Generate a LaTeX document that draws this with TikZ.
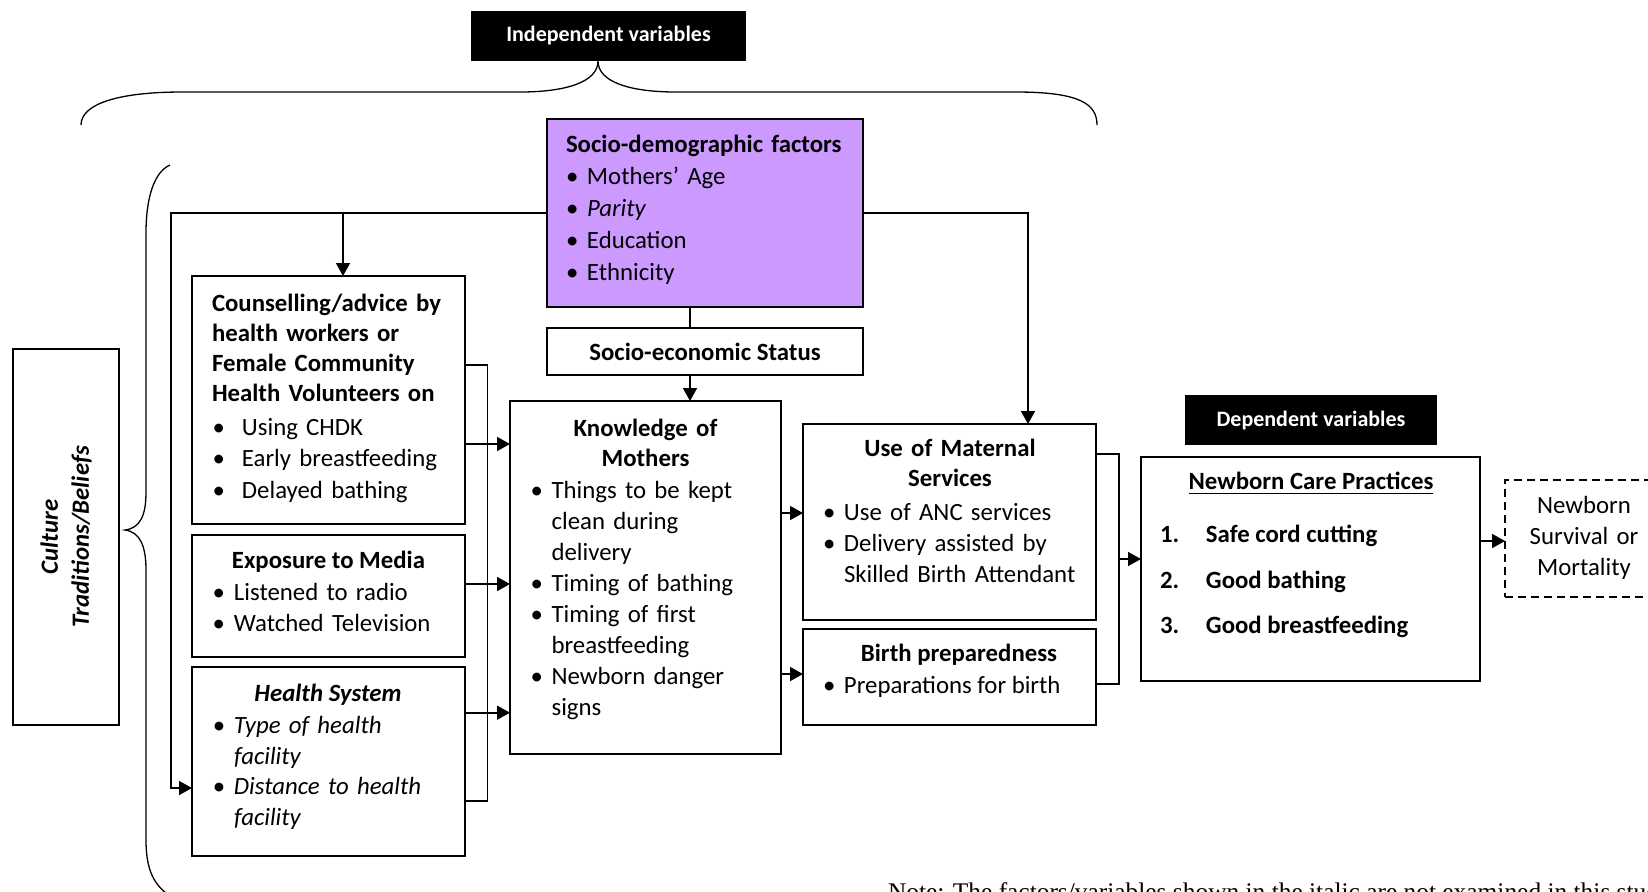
\documentclass[tikz,border=0pt]{standalone}
\usepackage{fontspec}
\setmainfont{Carlito}
\newfontfamily\notefont{Liberation Serif}
\usetikzlibrary{arrows.meta,calc}
\definecolor{sdpurple}{RGB}{204,153,255}
\newcommand{\bul}[2][10.5pt]{\strut\makebox[#1][l]{\textbullet}#2}
\newcommand{\cnt}[2][10.5pt]{\strut\hspace*{#1}#2}
\newcommand{\fs}[1]{\fontsize{12.4}{#1}\selectfont}
\begin{document}
\begin{tikzpicture}[x=0.5pt,y=-0.5pt,
  bx/.style={draw, line width=1pt, inner sep=0pt, outer sep=0pt, anchor=north west},
  sz/.style 2 args={minimum width=#1*0.5pt, minimum height=#2*0.5pt},
  txt/.style={inner sep=0pt, outer sep=0pt},
  conn/.style={line width=0.8pt},
  arr/.style={line width=0.8pt, -{Triangle[width=7pt,length=6.5pt]}},
  brace/.style={line width=0.65pt},
  blabel/.style={bx, fill=black, text=white, font={\fontsize{11}{13}\selectfont\bfseries}}
]
\useasboundingbox (0,0) rectangle (1648,891);
\clip (0,0) rectangle (1648,891);

% labels
\node[blabel, sz={273}{48}] (indep) at (472,12) {Independent variables};
\node[blabel, sz={250}{48}] (dep) at (1186,396) {Dependent variables};

% braces
\draw[brace] (81,125) .. controls (81,104) and (118,92) .. (182,92) -- (520,92)
  .. controls (566,92) and (598,82) .. (598,61)
  .. controls (598,82) and (630,92) .. (676,92) -- (1016,92)
  .. controls (1080,92) and (1097,104) .. (1097,125);
\draw[brace] (170,165) .. controls (154,172) and (146,198) .. (146,233) -- (146,492)
  .. controls (146,516) and (140,528) .. (125,530)
  .. controls (140,532) and (146,546) .. (146,570) -- (146,840)
  .. controls (146,866) and (152,882) .. (166,893);

% culture
\node[bx, sz={106}{376}] (cult) at (13,349) {};
\node[txt, rotate=90, align=center, font={\fs{15.5}\bfseries\itshape}] (cultT) at (66,537) {Culture\\Traditions/Beliefs};

% socio-demographic
\node[bx, fill=sdpurple, sz={316}{188}] (sd) at (547,119) {};
\node[txt, anchor=north west, align=left, text width=150pt, font={\fs{16}}] (sdT) at (566,130.3)
  {\strut\textbf{Socio-demographic factors}\\\bul{Mothers’ Age}\\\bul{\textit{Parity}}\\\bul{Education}\\\bul{Ethnicity}};

% socio-economic status
\node[bx, sz={316}{47}, font={\fs{15}\bfseries}] (ses) at (547,328) {Socio-economic Status};

% counselling
\node[bx, sz={273}{248}] (cn) at (192,276) {};
\node[txt, anchor=north west, align=left, text width=130pt, font={\fs{15}\bfseries}] (cnT) at (212,290.7)
  {\strut Counselling/advice by\\\strut health workers or\\\strut Female Community\\\strut Health Volunteers on};
\node[txt, anchor=north west, align=left, text width=130pt, font={\fs{15.8}}] (cnB) at (212.5,412.9)
  {\bul[14.75pt]{Using CHDK}\\\bul[14.75pt]{Early breastfeeding}\\\bul[14.75pt]{Delayed bathing}};

% media
\node[bx, sz={273}{122}] (med) at (192,535) {};
\node[txt, anchor=base, font={\fs{15}\bfseries}] (medT) at (328.5,568.3) {Exposure to Media};
\node[txt, anchor=north west, align=left, text width=130pt, font={\fs{15.75}}] (medB) at (212.5,578)
  {\bul[10.75pt]{Listened to radio}\\\bul[10.75pt]{Watched Television}};

% health system
\node[bx, sz={273}{189}] (hs) at (192,667) {};
\node[txt, anchor=base, font={\fs{15}\bfseries\itshape}] (hsT) at (328,701.7) {Health System};
\node[txt, anchor=north west, align=left, text width=130pt, font={\fs{15.4}\itshape}] (hsB) at (212.5,711.7)
  {\bul[10.75pt]{Type of health}\\\cnt[10.75pt]{facility}\\\bul[10.75pt]{Distance to health}\\\cnt[10.75pt]{facility}};

% knowledge
\node[bx, sz={271}{353}] (kn) at (510,401) {};
\node[txt, anchor=north, align=center, text width=130pt, font={\fs{15}\bfseries}] (knT) at (645.5,415)
  {\strut Knowledge of\\\strut Mothers};
\node[txt, anchor=north west, align=left, text width=125pt, font={\fs{15.53}}] (knB) at (530.6,476.6)
  {\bul{Things to be kept}\\\cnt{clean during}\\\cnt{delivery}\\\bul{Timing of bathing}\\\bul{Timing of first}\\\cnt{breastfeeding}\\\bul{Newborn danger}\\\cnt{signs}};

% use of maternal services
\node[bx, sz={293}{196}] (um) at (803,424) {};
\node[txt, anchor=north, align=center, text width=140pt, font={\fs{15}\bfseries}] (umT) at (950,435.7)
  {\strut Use of Maternal\\\strut Services};
\node[txt, anchor=north west, align=left, text width=140pt, font={\fs{15.5}}] (umB) at (823,498.3)
  {\bul{Use of ANC services}\\\bul{Delivery assisted by}\\\cnt{Skilled Birth Attendant}};

% birth preparedness
\node[bx, sz={293}{96}] (bp) at (803,629) {};
\node[txt, anchor=base, font={\fs{15}\bfseries}] (bpT) at (959,661.7) {Birth preparedness};
\node[txt, anchor=base west, font={\fs{15}}] (bpB) at (823,693.3) {\bul{Preparations for birth}};

% newborn care practices
\node[bx, sz={339}{224}] (ncp) at (1141,457) {};
\node[txt, anchor=base, font={\fs{15}\bfseries}] (ncpT) at (1311,489) {Newborn Care Practices};
\draw[line width=0.9pt] ($(ncpT.base west)+(0,4.5)$) -- ($(ncpT.base east)+(0,4.5)$);
\node[txt, anchor=base west, font={\fs{15}\bfseries}] (i1) at (1160,542.7) {\makebox[23pt][l]{1.}Safe cord cutting};
\node[txt, anchor=base west, font={\fs{15}\bfseries}] (i2) at (1160,588.3) {\makebox[23pt][l]{2.}Good bathing};
\node[txt, anchor=base west, font={\fs{15}\bfseries}] (i3) at (1160,633.3) {\makebox[23pt][l]{3.}Good breastfeeding};

% newborn survival
\node[bx, sz={158}{117}, line width=0.75pt, dash pattern=on 4pt off 2.5pt] (surv) at (1505,480) {};
\node[txt, anchor=north, align=center, text width=75pt, font={\fs{15.5}}] (survT) at (1584,491.6)
  {\strut Newborn\\\strut Survival or\\\strut Mortality};

% note
\node[txt, anchor=base west, font={\notefont\fontsize{12.7}{14}\selectfont}] (note) at (888,900)
  {Note: The factors/variables shown in the italic are not examined in this study.};

% connectors
\coordinate (L1) at (171,213);
\draw[arr] (sd.west) -- (L1) |- (hs.west |- 0,788);
\coordinate (cnin) at ($(cn.north west)+(151,0)$);
\draw[arr] (cnin |- sd.west) -- (cnin);
\coordinate (umin) at ($(um.north west)+(225,0)$);
\draw[arr] (sd.east) -| (umin);
\coordinate (s0) at ($(sd.south)+(-15,0)$);
\coordinate (s1) at ($(ses.south)+(-15,0)$);
\draw[conn] (s0) -- (s0 |- ses.north);
\draw[arr] (s1) -- (s1 |- kn.north);

\coordinate (B1) at (487.5,365);
\draw[conn] (cn.east |- B1) -- (B1) -- (B1 |- 0,801) -- (hs.east |- 0,801);
\draw[arr] (cn.east |- 0,444) -- (kn.west |- 0,444);
\draw[arr] (med.east |- 0,584) -- (kn.west |- 0,584);
\draw[arr] (hs.east |- 0,712.7) -- (kn.west |- 0,712.7);

\draw[arr] (kn.east |- 0,513) -- (um.west |- 0,513);
\draw[arr] (kn.east |- 0,674) -- (bp.west |- 0,674);

\coordinate (B2) at (1119,454);
\draw[conn] (um.east |- B2) -- (B2) -- (B2 |- 0,684) -- (bp.east |- 0,684);
\draw[arr] (B2 |- 0,559) -- (ncp.west |- 0,559);

\draw[arr] (ncp.east |- 0,541) -- (surv.west |- 0,541);
\end{tikzpicture}
\end{document}
